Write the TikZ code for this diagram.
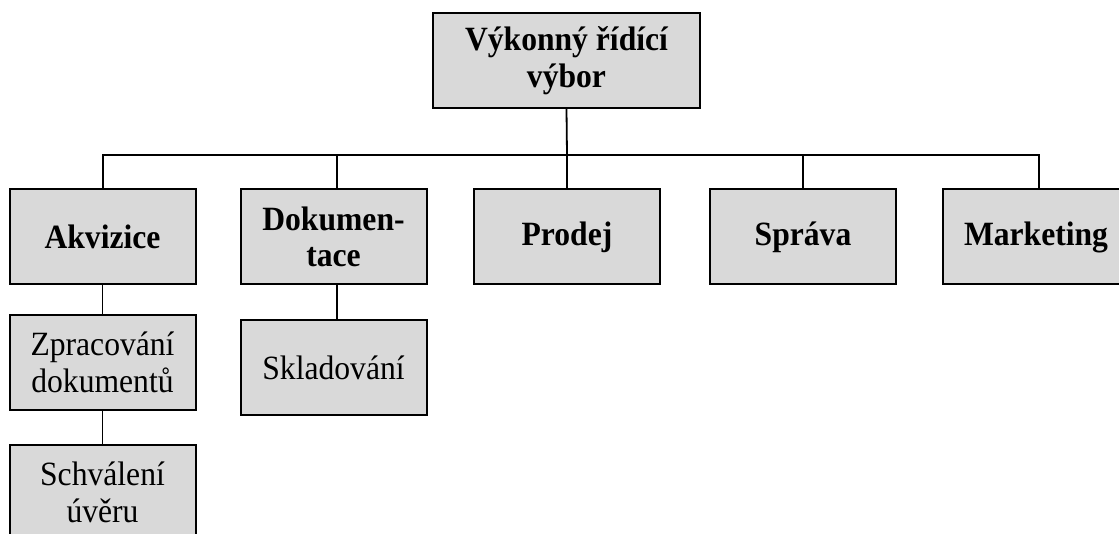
\documentclass[tikz,border=0pt]{standalone}
\usepackage{fontspec}
\setmainfont{Liberation Serif}[FakeStretch=0.93]
\definecolor{boxgray}{RGB}{217,217,217}
\begin{document}
\begin{tikzpicture}[x=1pt,y=-1pt,
  box/.style={draw=black, line width=2pt, fill=boxgray, inner sep=0pt,
    minimum width=186pt, minimum height=95pt, align=center,
    font=\fontsize{34}{36.5}\selectfont},
  boldbox/.style={box, font=\fontsize{34}{36.5}\selectfont\bfseries},
  conn/.style={draw=black, line width=1.8pt}]
\useasboundingbox (0,0) rectangle (1119,534);
\clip (0,0) rectangle (1119,534);
\fill[white] (0,0) rectangle (1119,534);
\coordinate (bus) at (567,155);
\node[boldbox, minimum width=267pt] (top) at (566.5,60.5) {Výkonný řídící\\výbor};
\node[boldbox] (akv) at (102.5,237) {Akvizice};
\node[boldbox] (dok) at (333.5,237) {Dokumen-\\tace};
\node[boldbox] (pro) at (567,237) {Prodej};
\node[boldbox] (spr) at (803,237) {Správa};
\node[boldbox] (mkt) at (1036,237) {Marketing};
\node[box] (zpr) at (102.5,362.5) {Zpracování\\dokumentů};
\node[box] (sch) at (102.5,492.5) {Schválení\\úvěru};
\node[box] (skl) at (333.5,367.5) {Skladování};
\draw[conn] (top.south) -- (bus);
\draw[conn] ([xshift=0.5pt]akv.north) |- (bus) -| ([xshift=3pt]mkt.north);
\draw[conn] ([xshift=3.5pt]dok.north) -- ([xshift=3.5pt]dok.north |- bus);
\draw[conn] (bus) -- (pro.north);
\draw[conn] (spr.north) -- (spr.north |- bus);
\draw[conn] (akv.south) -- (zpr.north);
\draw[conn] (zpr.south) -- (sch.north);
\draw[conn] ([xshift=3.5pt]dok.south) -- ([xshift=3.5pt]skl.north);
\end{tikzpicture}
\end{document}
